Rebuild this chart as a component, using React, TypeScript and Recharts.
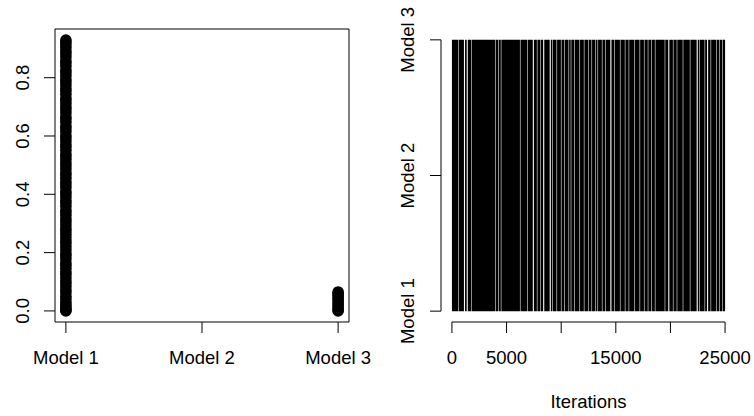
import {
  ScatterChart,
  Scatter,
  ComposedChart,
  Area,
  XAxis,
  YAxis,
  ReferenceArea,
  ReferenceLine,
  Label,
} from "recharts";

// posterior probabilities drawn as a strip per model
const modelNames = ["Model 1", "Model 2", "Model 3"];
const model1Probs = [
  0, 0.003, 0.008, 0.015, 0.022, 0.03, 0.041, 0.05, 0.062, 0.071, 0.083, 0.094, 0.103, 0.115, 0.126,
  0.134, 0.146, 0.157, 0.165, 0.178, 0.188, 0.197, 0.209, 0.22, 0.231, 0.24, 0.252, 0.263, 0.274,
  0.283, 0.295, 0.306, 0.315, 0.327, 0.338, 0.346, 0.359, 0.37, 0.379, 0.391, 0.402, 0.41, 0.423,
  0.434, 0.443, 0.455, 0.466, 0.474, 0.487, 0.498, 0.507, 0.519, 0.53, 0.538, 0.551, 0.562, 0.571,
  0.583, 0.594, 0.602, 0.615, 0.626, 0.634, 0.647, 0.658, 0.666, 0.679, 0.69, 0.699, 0.711, 0.722,
  0.73, 0.743, 0.754, 0.763, 0.775, 0.786, 0.794, 0.807, 0.818, 0.826, 0.839, 0.85, 0.858, 0.871,
  0.882, 0.891, 0.903, 0.914, 0.922, 0.929,
];
const model3Probs = [0, 0.004, 0.01, 0.017, 0.024, 0.031, 0.039, 0.046, 0.053, 0.06, 0.065];
const probTicks = [0, 0.2, 0.4, 0.6, 0.8];

// trace of the sampled model index; light gaps are stretches where the chain sat still
const iterationTicks = [0, 5000, 10000, 15000, 20000, 25000];
const iterationLabels = ["0", "5000", "", "15000", "", "25000"];
const totalIterations = 25000;
const modelStates = [1, 3];
const traceGaps = [
  [575, 625], [1100, 1200], [1350, 1450], [1775, 1825], [3975, 4025], [4225, 4275], [4475, 4525],
  [6225, 6275], [6875, 6925], [7400, 7500], [7775, 7825], [8075, 8125], [8350, 8450], [8950, 9050],
  [9175, 9225], [9575, 9625], [9975, 10025], [10275, 10325], [10675, 10725], [10875, 10925],
  [11175, 11225], [11675, 11725], [12075, 12125], [12475, 12525], [12775, 12825], [13125, 13175],
  [13325, 13375], [13725, 13775], [14025, 14075], [14500, 14600], [14875, 14925], [15375, 15425],
  [15825, 15875], [16175, 16225], [16675, 16725], [17175, 17225], [17575, 17625], [17925, 17975],
  [18225, 18275], [18575, 18625], [19475, 19525], [19800, 19900], [20225, 20275], [20575, 20625],
  [21125, 21175], [21775, 21825], [22400, 22500], [22625, 22675], [23125, 23175], [23350, 23450],
  [23675, 23725], [24175, 24225], [24475, 24525], [24725, 24775],
];

const stripData = [
  ...model1Probs.map((p) => ({ model: 1, prob: p })),
  ...model3Probs.map((p) => ({ model: 3, prob: p })),
];

const traceData: { iter: number; band: number[] | null }[] = [{ iter: 0, band: modelStates }];
traceGaps.forEach(([start, end]) => {
  traceData.push({ iter: start, band: modelStates });
  traceData.push({ iter: (start + end) / 2, band: null });
  traceData.push({ iter: end, band: modelStates });
});
traceData.push({ iter: totalIterations, band: modelStates });

const FONT = "'Liberation Sans', Arial, Helvetica, sans-serif";
const FS = 18.5;
const xDomain = [0.92, 3.08];
const probDomain = [-0.038, 0.967];

const RotatedTick = ({ x, y, payload, format }: any) => (
  <text
    x={x}
    y={y}
    transform={`rotate(-90, ${x}, ${y})`}
    textAnchor="middle"
    fontSize={FS}
    fontFamily={FONT}
    fill="#000"
  >
    {format(payload.value)}
  </text>
);

const BottomTick = ({ x, y, payload, format }: any) => (
  <text x={x} y={y} dy="0.71em" textAnchor="middle" fontSize={FS} fontFamily={FONT} fill="#000">
    {format(payload.value)}
  </text>
);

const Dot = ({ cx, cy }: any) => <circle cx={cx} cy={cy} r={5.8} fill="#000" />;

export default function App() {
  return (
    <div style={{ position: "absolute", left: 0, top: 0, width: 754, height: 416, background: "#fff" }}>
      <div style={{ position: "absolute", left: 0, top: 0 }}>
        <ScatterChart width={377} height={416} margin={{ top: 29, right: 28, bottom: 0, left: 0 }}>
          <XAxis
            type="number"
            dataKey="model"
            domain={xDomain}
            ticks={[1, 2, 3]}
            height={94}
            axisLine={false}
            tickSize={11}
            tickMargin={18}
            tickLine={{ stroke: "#000", strokeWidth: 1 }}
            tick={<BottomTick format={(v: number) => modelNames[v - 1]} />}
            allowDataOverflow
          />
          <YAxis
            type="number"
            dataKey="prob"
            domain={probDomain}
            ticks={probTicks}
            width={55}
            axisLine={false}
            tickSize={11}
            tickMargin={14.7}
            tickLine={{ stroke: "#000", strokeWidth: 1 }}
            tick={<RotatedTick format={(v: number) => v.toFixed(1)} />}
            allowDataOverflow
          />
          <ReferenceArea
            x1={xDomain[0]}
            x2={xDomain[1]}
            y1={probDomain[0]}
            y2={probDomain[1]}
            fill="none"
            stroke="#000"
            strokeWidth={1}
            ifOverflow="visible"
          />
          <Scatter data={stripData} shape={<Dot />} isAnimationActive={false} />
        </ScatterChart>
      </div>
      <div style={{ position: "absolute", left: 377, top: 0 }}>
        <ComposedChart
          width={377}
          height={416}
          data={traceData}
          margin={{ top: 29, right: 18, bottom: 0, left: 0 }}
        >
          <XAxis
            type="number"
            dataKey="iter"
            domain={[-1000, 26000]}
            ticks={iterationTicks}
            height={94}
            axisLine={false}
            tickSize={11}
            tickMargin={18}
            tickLine={{ stroke: "#000", strokeWidth: 1 }}
            tick={<BottomTick format={(v: number) => iterationLabels[iterationTicks.indexOf(v)]} />}
            allowDataOverflow
          >
            <Label
              content={({ viewBox }: any) => (
                <text
                  x={viewBox.x + viewBox.width / 2}
                  y={viewBox.y + 86}
                  textAnchor="middle"
                  fontSize={FS}
                  fontFamily={FONT}
                  fill="#000"
                >
                  Iterations
                </text>
              )}
            />
          </XAxis>
          <YAxis
            type="number"
            domain={xDomain}
            ticks={[1, 2, 3]}
            width={64}
            axisLine={false}
            tickSize={11}
            tickMargin={16}
            tickLine={{ stroke: "#000", strokeWidth: 1 }}
            tick={<RotatedTick format={(v: number) => modelNames[v - 1]} />}
            allowDataOverflow
          />
          <Area
            dataKey="band"
            type="linear"
            fill="#000"
            fillOpacity={1}
            stroke="none"
            isAnimationActive={false}
            dot={false}
            activeDot={false}
          />
          <ReferenceLine
            segment={[
              { x: 0, y: xDomain[0] },
              { x: totalIterations, y: xDomain[0] },
            ]}
            stroke="#000"
            strokeWidth={1}
            ifOverflow="visible"
          />
          <ReferenceLine
            segment={[
              { x: -1000, y: 1 },
              { x: -1000, y: 3 },
            ]}
            stroke="#000"
            strokeWidth={1}
            ifOverflow="visible"
          />
        </ComposedChart>
      </div>
    </div>
  );
}
